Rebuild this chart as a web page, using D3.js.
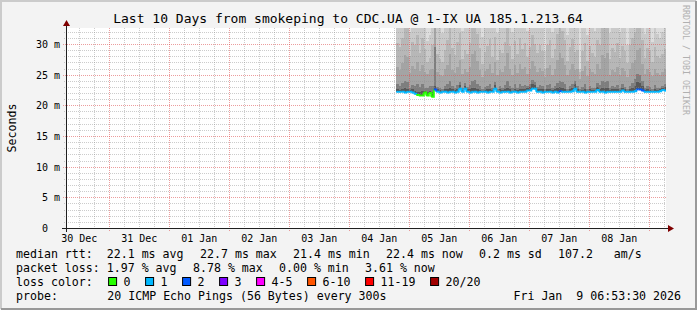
<!DOCTYPE html>
<html>
<head>
<meta charset="utf-8">
<script src="https://cdn.jsdelivr.net/npm/d3@7"></script>
<style>
  body { margin: 0; background: #f3f3f3; }
  svg { display: block; }
  text { font-family: "DejaVu Sans Mono", monospace; }
</style>
</head>
<body>
<svg id="chart" width="697" height="310"></svg>
<script>
// ---- data ----
const timeStart = new Date("2025-12-30T06:53:30Z");
const timeEnd = new Date("2026-01-09T06:53:30Z");
const smokeStart = new Date("2026-01-04T19:00:00Z"); // hourly consolidated rows
const stepSec = 3600;

// median rtt per hour (ms)
const median = [
  22.2,22.2,22.2,22.1,22.2,22.2,22.1,21.9,21.7,21.6,21.6,22.1,
  21.6,22.0,21.4,22.6,22.2,22.1,22.2,22.2,22.1,22.2,22.2,22.1,
  22.2,22.7,22.2,22.7,22.2,22.1,22.2,22.2,22.1,22.2,22.2,22.2,
  22.1,22.2,22.2,22.7,22.2,22.1,22.2,22.2,22.2,22.1,22.2,22.2,
  22.1,22.2,22.2,22.2,22.4,22.4,22.7,22.7,22.2,22.2,22.1,22.2,
  22.2,22.2,22.1,22.2,22.1,22.3,22.2,22.2,22.2,22.2,22.3,22.7,
  22.2,22.2,22.2,22.1,22.2,22.2,22.2,22.2,22.5,22.2,22.2,22.1,
  22.2,22.2,22.2,22.2,22.2,22.2,22.4,22.2,22.2,22.2,22.2,22.3,
  22.6,22.6,22.4,22.2,22.2,22.2,22.2,22.2,22.2,22.3,22.5,22.4
];
// lost pings per hour (of 20)
const loss = [
  0.4,0.3,0.4,0.5,0.3,0.4,0.3,0.6,0,0,0,0,
  0,0,0,1.6,0.4,0.3,0.5,0.3,0.4,0.3,0.5,0.4,
  0.3,0.6,0.4,0.5,0.3,0.4,0.3,0.4,0.5,0.3,0.4,0.3,
  0.4,0.5,0.3,0.6,0.4,0.3,0.5,0.4,0.3,0.4,0.3,0.5,
  0.4,0.3,0.4,0.5,0.4,0.6,0.7,0.5,0.3,0.4,0.3,0.4,
  0.3,0.5,0.4,0.3,0.6,1.4,0.4,0.3,0.5,0.4,0.3,0.6,
  0.4,0.3,0.5,0.4,0.3,0.4,0.3,0.5,0.4,0.3,0.4,0.5,
  0.3,0.4,0.5,0.3,0.4,0.3,0.6,0.4,0.3,0.5,0.4,0.6,
  1.75,1.7,1.3,0.5,0.4,0.3,0.4,0.5,0.3,0.4,0.6,0.7
];
// smoke: sorted ping values (ms) at a few ranks, per hour
const pMax = [
  41,38,45,52,49,37,40,36,44,39,47,43,
  42,38,46,58,40,36,35,44,39,41,48,37,
  45,50,38,42,36,40,47,53,49,38,35,41,
  44,39,37,46,51,40,38,43,36,45,39,42,
  37,48,41,44,39,52,46,38,40,35,43,47,
  41,36,44,39,50,47,42,38,45,40,37,49,
  35,43,40,46,38,41,48,44,37,42,39,45,
  38,36,47,42,40,44,39,50,46,41,43,38,
  55,48,42,37,40,45,39,36,43,41,38,44
];
const p19 = [
  34.5,33.8,35.2,37.0,36.1,32.0,34.0,33.6,35.5,34.2,36.8,33.9,
  30.5,31.5,34.8,40.0,35.0,33.7,31.8,34.6,36.2,38.0,34.1,33.8,
  35.4,37.2,32.2,34.9,33.6,34.3,37.5,39.0,36.0,34.4,31.2,33.9,
  34.7,35.8,33.5,36.4,31.8,34.2,33.9,35.1,38.2,34.0,32.0,35.6,
  33.7,36.0,34.5,35.3,32.1,34.8,36.5,35.0,33.6,34.2,33.8,28.8,
  34.6,35.9,31.9,34.1,36.7,37.8,36.2,35.0,31.5,34.4,35.7,33.8,
  34.0,26.0,33.9,35.2,31.5,34.5,33.7,32.2,35.9,34.8,38.0,36.4,
  37.1,31.8,34.2,33.6,35.0,32.0,34.7,33.9,29.8,34.5,35.8,36.9,
  39.0,38.2,35.4,31.7,34.0,33.6,30.4,34.1,31.6,31.0,32.0,33.8
];
const p18 = [
  30.2,29.5,31.0,33.4,33.0,28.0,30.4,29.8,31.5,28.6,30.9,29.2,
  27.0,27.8,29.9,36.0,28.3,27.5,27.0,29.1,30.6,33.1,29.4,28.2,
  30.3,31.8,27.6,29.0,28.4,30.1,32.9,33.6,31.6,29.3,26.8,28.7,
  29.6,30.8,27.9,31.2,27.4,29.0,28.5,30.3,33.3,29.7,27.6,30.5,
  28.3,30.9,29.2,30.1,27.9,29.5,31.4,30.0,28.6,29.8,28.9,26.0,
  29.9,30.7,27.8,29.2,31.6,33.1,32.2,30.6,27.3,29.5,30.8,28.7,
  29.1,25.4,28.8,30.2,27.2,29.6,28.5,27.9,30.7,29.9,33.0,32.6,
  33.5,27.6,29.3,28.7,30.1,27.8,29.6,28.9,26.9,29.8,31.0,32.0,
  33.2,34.0,30.6,27.8,29.4,28.8,27.1,29.5,28.0,27.7,28.4,29.2
];
const p17 = [
  26.3,25.8,26.9,28.2,27.9,25.2,26.4,25.9,27.1,25.6,26.6,25.4,
  25.1,25.7,26.0,34.5,25.4,25.0,24.8,25.9,26.5,28.3,25.8,25.3,
  26.2,27.4,25.1,26.0,25.5,26.3,28.4,28.9,27.2,25.7,24.7,25.6,
  26.0,26.8,25.2,27.0,24.9,25.8,25.4,26.4,28.6,25.9,25.0,26.5,
  25.3,26.7,25.9,26.3,25.1,26.0,27.2,26.4,25.5,26.1,25.6,24.6,
  26.1,26.6,25.0,25.9,27.4,28.5,27.8,26.5,24.9,25.8,26.7,25.7,
  25.9,24.3,25.6,26.4,24.8,26.0,25.4,25.1,26.7,26.0,28.2,27.7,
  28.6,25.0,25.8,25.5,26.3,25.0,26.1,25.6,24.6,26.0,26.9,27.4,
  29.0,29.4,26.7,25.1,25.9,25.5,24.8,26.0,25.2,25.0,25.4,25.9
];
const p15 = [
  23.4,23.1,23.6,24.0,23.8,22.9,23.3,23.2,23.5,23.0,23.4,22.9,
  22.8,23.1,23.2,29.5,23.0,22.8,22.7,23.2,23.4,23.9,23.1,22.9,
  23.3,23.8,22.8,23.7,23.0,23.3,23.9,24.1,23.5,23.1,22.7,23.0,
  23.2,23.5,22.8,23.8,22.7,23.1,22.9,23.3,24.0,23.2,22.8,23.4,
  22.9,23.4,23.2,23.3,23.2,23.5,24.1,23.8,23.0,23.3,23.1,22.7,
  23.3,23.4,22.8,23.2,23.7,24.0,23.8,23.4,22.7,23.1,23.5,23.9,
  23.2,22.6,23.0,23.4,22.7,23.2,22.9,22.8,23.6,23.3,23.9,23.8,
  24.0,22.8,23.1,23.0,23.3,22.8,23.4,23.0,22.6,23.2,23.7,24.3,
  25.1,24.9,23.9,22.8,23.2,23.0,22.7,23.3,22.9,22.8,23.2,23.5
];
const p13 = [
  22.6,22.5,22.7,22.8,22.7,22.5,22.6,22.4,22.2,22.1,22.3,22.4,
  22.2,22.4,22.1,23.2,22.6,22.5,22.4,22.6,22.7,22.8,22.6,22.5,
  22.7,23.3,22.5,23.2,22.6,22.6,22.8,22.9,22.7,22.5,22.4,22.5,
  22.6,22.7,22.5,23.3,22.4,22.6,22.5,22.7,22.8,22.6,22.4,22.7,
  22.5,22.7,22.6,22.7,22.9,23.0,23.4,23.3,22.6,22.7,22.6,22.4,
  22.6,22.7,22.5,22.6,22.8,23.0,22.8,22.7,22.4,22.6,22.8,23.4,
  22.6,22.3,22.5,22.7,22.4,22.6,22.5,22.5,23.0,22.7,22.9,22.8,
  22.9,22.5,22.6,22.6,22.7,22.5,22.9,22.6,22.4,22.7,22.8,23.1,
  23.8,23.6,23.1,22.5,22.6,22.5,22.4,22.7,22.5,22.6,22.9,23.0
];

const smokeBands = [pMax, p19, p18, p17, p15, p13];
const smokeColors = ["#dddddd", "#cacaca", "#b7b7b7", "#a4a4a4", "#7e7e7e", "#585858"];

const lossLabels = ["0", "1", "2", "3", "4-5", "6-10", "11-19", "20/20"];
const lossLimits = [0, 1, 2, 3, 5, 10, 19, 20];
const lossColors = ["#26ff00", "#00b8ff", "#0059ff", "#7e00ff", "#ff00ff", "#ff5500", "#ff0000", "#a10000"];

const rttLead = "median rtt:  ";
const rttStats = ["22.1 ms avg", "22.7 ms max", "21.4 ms min", "22.4 ms now", "0.2 ms sd", "107.2   am/s"];
const lossLead = "packet loss: ";
const lossStats = ["1.97 % avg", "8.78 % max", "0.00 % min", "3.61 % now"];
const probeText = "20 ICMP Echo Pings (56 Bytes) every 300s";
const stampText = "Fri Jan  9 06:53:30 2026";
const titleText = "Last 10 Days from smokeping to CDC.UA @ 1-IX UA 185.1.213.64";

// ---- layout ----
const W = 697, H = 310;
const plotLeft = 66, plotTop = 28, pw = 600, ph = 200;
const yMax = 32.61;

const svg = d3.select("#chart");

// background with rrdtool style shading
svg.append("rect").attr("width", W).attr("height", H).attr("fill", "#f3f3f3");
svg.append("path").attr("d", `M0,1H${W - 1}M1,0V${H - 1}`)
  .attr("stroke", "#cbcbcb").attr("stroke-width", 2);
svg.append("path").attr("d", `M${W - 1},1V${H}M1,${H - 1}H${W}`)
  .attr("stroke", "#999999").attr("stroke-width", 2);

const x = d3.scaleUtc().domain([timeStart, timeEnd]).range([plotLeft, plotLeft + pw]);
const y = d3.scaleLinear().domain([0, yMax]).range([plotTop + ph, plotTop]);

svg.append("rect").attr("x", plotLeft).attr("y", plotTop).attr("width", pw).attr("height", ph)
  .attr("fill", "#ffffff");

svg.append("clipPath").attr("id", "plot")
  .append("rect").attr("x", plotLeft).attr("y", plotTop).attr("width", pw).attr("height", ph);

const rows = median.map((m, i) => {
  const t0 = new Date(smokeStart.getTime() + i * stepSec * 1000);
  const t1 = new Date(Math.min(t0.getTime() + stepSec * 1000, timeEnd.getTime()));
  return { i, t0, t1, m, loss: loss[i] };
});

// smoke
const gSmoke = svg.append("g").attr("clip-path", "url(#plot)").attr("shape-rendering", "crispEdges");
smokeBands.forEach((band, b) => {
  gSmoke.append("g").selectAll("rect").data(rows).join("rect")
    .attr("x", d => x(d.t0))
    .attr("width", d => x(d.t1) - x(d.t0))
    .attr("y", d => y(Math.min(band[d.i], yMax)))
    .attr("height", d => y(d.m) - y(Math.min(band[d.i], yMax)))
    .attr("fill", smokeColors[b]);
});

// grid
const gGrid = svg.append("g").attr("shape-rendering", "crispEdges");
const minorX = d3.utcHour.every(6).range(timeStart, timeEnd).filter(t => t.getUTCHours() !== 0);
const majorX = d3.utcDay.range(timeStart, timeEnd);
const minorY = d3.range(1, Math.floor(yMax) + 1).filter(v => v % 5 !== 0);
const majorY = d3.range(5, yMax, 5);
const gridMinor = "rgba(143,143,143,0.46)", gridMajor = "rgba(222,80,80,0.56)";

gGrid.selectAll(".mx").data(minorX).join("line")
  .attr("x1", d => Math.round(x(d)) + 0.5).attr("x2", d => Math.round(x(d)) + 0.5)
  .attr("y1", plotTop).attr("y2", plotTop + ph + 2)
  .attr("stroke", gridMinor).attr("stroke-dasharray", "1,1");
gGrid.selectAll(".my").data(minorY).join("line")
  .attr("x1", plotLeft - 2).attr("x2", plotLeft + pw)
  .attr("y1", d => Math.round(y(d)) + 0.5).attr("y2", d => Math.round(y(d)) + 0.5)
  .attr("stroke", gridMinor).attr("stroke-dasharray", "1,1");
gGrid.selectAll(".Mx").data(majorX).join("line")
  .attr("x1", d => Math.round(x(d)) + 0.5).attr("x2", d => Math.round(x(d)) + 0.5)
  .attr("y1", plotTop).attr("y2", plotTop + ph + 3)
  .attr("stroke", gridMajor).attr("stroke-dasharray", "1,1");
gGrid.selectAll(".My").data(majorY).join("line")
  .attr("x1", plotLeft - 3).attr("x2", plotLeft + pw)
  .attr("y1", d => Math.round(y(d)) + 0.5).attr("y2", d => Math.round(y(d)) + 0.5)
  .attr("stroke", gridMajor).attr("stroke-dasharray", "1,1");

// median line coloured by loss
const lossIndex = l => lossLimits.findIndex(lim => l <= lim);
const step = d3.line().curve(d3.curveStepAfter).x(p => x(p[0])).y(p => y(p[1]));
const gLine = svg.append("g").attr("clip-path", "url(#plot)");
rows.forEach((d, i) => {
  const next = rows[i + 1];
  const pts = next ? [[d.t0, d.m], [d.t1, next.m]] : [[d.t0, d.m], [d.t1, d.m]];
  gLine.append("path").attr("d", step(pts))
    .attr("fill", "none").attr("stroke", lossColors[lossIndex(d.loss)])
    .attr("stroke-width", 2);
});

// axes
const axisColor = "#1f1f1f";
svg.append("line").attr("x1", plotLeft - 4).attr("x2", plotLeft + pw + 3)
  .attr("y1", plotTop + ph + 0.5).attr("y2", plotTop + ph + 0.5).attr("stroke", axisColor);
svg.append("line").attr("x1", plotLeft + 0.5).attr("x2", plotLeft + 0.5)
  .attr("y1", plotTop + ph + 4).attr("y2", plotTop - 3).attr("stroke", axisColor);
svg.append("path")
  .attr("d", `M${plotLeft + pw + 2},${plotTop + ph - 3}L${plotLeft + pw + 8},${plotTop + ph + 0.5}L${plotLeft + pw + 2},${plotTop + ph + 4}Z`)
  .attr("fill", "#7f0000");
svg.append("path")
  .attr("d", `M${plotLeft - 3},${plotTop - 2}L${plotLeft + 0.5},${plotTop - 8}L${plotLeft + 4},${plotTop - 2}Z`)
  .attr("fill", "#7f0000");

// x labels, centred at noon
const noon = majorX.map(d => d3.utcHour.offset(d, 12)).filter(d => d < timeEnd);
noon.unshift(d3.utcHour.offset(d3.utcDay.floor(timeStart), 12));
const xAxis = d3.axisBottom(x).tickValues(noon).tickSize(0).tickPadding(0)
  .tickFormat(d3.utcFormat("%d %b"));
const gx = svg.append("g").attr("transform", `translate(0,${plotTop + ph})`).call(xAxis);
gx.select(".domain").remove();
gx.selectAll("text").attr("font-family", "DejaVu Sans Mono").attr("font-size", 10)
  .attr("fill", "#000").attr("dy", null).attr("y", 14);

// y labels
const yAxis = d3.axisLeft(y).tickValues(d3.range(0, yMax, 5)).tickSize(0).tickPadding(0)
  .tickFormat(d => d === 0 ? "0\u00a0\u00a0" : d + " m");
const gy = svg.append("g").attr("transform", `translate(${plotLeft - 6},0)`).call(yAxis);
gy.select(".domain").remove();
gy.selectAll("text").attr("font-family", "DejaVu Sans Mono").attr("font-size", 10)
  .attr("fill", "#000").attr("dy", "0.35em");

// titles
svg.append("text").attr("x", 348).attr("y", 23).attr("text-anchor", "middle")
  .attr("font-size", 13).text(titleText);
svg.append("text").attr("transform", "translate(16,128) rotate(-90)")
  .attr("text-anchor", "middle").attr("font-size", 11.6).text("Seconds");
svg.append("text").attr("transform", "translate(683,5) rotate(90)")
  .attr("font-size", 8.3).attr("fill", "#b0b0b0").text("RRDTOOL / TOBI OETIKER");

// legend: items laid out one after another with a fixed gap, like rrdtool does
const fs = 11.6, cw = 7.0, gap = 16, legX = 16;
const leg = svg.append("g").attr("font-size", fs).attr("fill", "#000");
const rowY = [258, 272, 286, 300];

function legendRow(items, yy) {
  let px = legX;
  items.forEach(s => {
    leg.append("text").attr("x", px).attr("y", yy).attr("xml:space", "preserve").text(s);
    px += s.length * cw + gap;
  });
}
legendRow([rttLead + rttStats[0], ...rttStats.slice(1)], rowY[0]);
legendRow([lossLead + lossStats[0], ...lossStats.slice(1)], rowY[1]);

leg.append("text").attr("x", legX).attr("y", rowY[2]).text("loss color:");
let bx = 108.6;
lossLabels.forEach((lab, i) => {
  leg.append("rect").attr("x", bx).attr("y", 277.5).attr("width", 8).attr("height", 8)
    .attr("fill", lossColors[i]).attr("stroke", "#000");
  leg.append("text").attr("x", bx + 15).attr("y", rowY[2]).text(lab);
  bx += 15 + lab.length * cw + gap - 1;
});

leg.append("text").attr("x", legX).attr("y", rowY[3]).text("probe:");
leg.append("text").attr("x", 107.3).attr("y", rowY[3]).text(probeText);
leg.append("text").attr("x", 681).attr("y", rowY[3]).attr("text-anchor", "end")
  .attr("xml:space", "preserve").text(stampText);
</script>
</body>
</html>
